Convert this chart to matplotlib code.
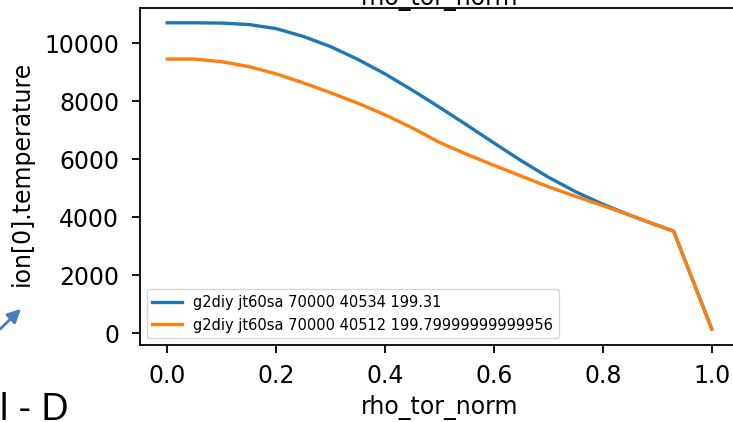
import matplotlib
matplotlib.use("Agg")
import matplotlib.pyplot as plt
from matplotlib.patches import FancyArrowPatch

matplotlib.rcParams.update({
    "font.family": "DejaVu Sans",
    "font.size": 17,
    "axes.linewidth": 1.3,
    "xtick.major.size": 6,
    "ytick.major.size": 6,
    "xtick.major.width": 1.3,
    "ytick.major.width": 1.3,
    "xtick.major.pad": 8,
    "ytick.major.pad": 9,
})

# ── Profile data ──────────────────────────────────────────────
rho = [0.00, 0.05, 0.10, 0.15, 0.20, 0.25, 0.30, 0.35, 0.40, 0.45,
       0.50, 0.55, 0.60, 0.65, 0.70, 0.75, 0.80, 0.85, 0.88, 0.93, 1.00]
ti_40534 = [10700, 10700, 10690, 10640, 10500, 10230, 9880, 9440, 8940, 8380,
            7790, 7180, 6560, 5950, 5380, 4880, 4450, 4070, 3860, 3520, 150]
ti_40512 = [9450, 9450, 9360, 9190, 8940, 8630, 8290, 7930, 7530, 7080,
            6580, 6170, 5790, 5420, 5050, 4720, 4400, 4070, 3860, 3520, 150]

label_40534 = "g2diy jt60sa 70000 40534 199.31"
label_40512 = "g2diy jt60sa 70000 40512 199.79999999999956"

x_ticks = [0.0, 0.2, 0.4, 0.6, 0.8, 1.0]
y_ticks = [0, 2000, 4000, 6000, 8000, 10000]

fig = plt.figure(figsize=(7.33, 4.22), dpi=100)
ax = fig.add_axes([140 / 733, 77 / 422, 599 / 733, 337 / 422])

ax.plot(rho, ti_40534, color="#1f77b4", linewidth=2.4, label=label_40534)
ax.plot(rho, ti_40512, color="#ff7f0e", linewidth=2.4, label=label_40512)

ax.set_xticks(x_ticks)
ax.set_yticks(y_ticks)
ax.set_xlim(-0.05, 1.05)
ax.set_ylim(-400, 11210)
ax.set_xlabel("rho_tor_norm", labelpad=5)
ax.set_ylabel("ion[0].temperature")
ax.yaxis.set_label_coords(-0.178, 0.51)

ax.legend(loc="lower left", fontsize=10.5, handlelength=2.0,
          borderaxespad=0.45)

# xlabel of the panel above, clipped by the screenshot
fig.text(0.5995, 1 - 5 / 422, "rho_tor_norm", ha="center", va="baseline",
         fontsize=17)

# slide fragments around the chart
fig.text(0.0, 2 / 422, "l - D", ha="left", va="baseline",
         fontsize=27, family="Liberation Sans")
fig.add_artist(FancyArrowPatch(
    (-2 / 733, 1 - 331 / 422), (23 / 733, 1 - 307 / 422),
    transform=fig.transFigure, arrowstyle="-|>", mutation_scale=20,
    color="#4a7ebb", linewidth=2))

fig.savefig("out.png", dpi=100)
